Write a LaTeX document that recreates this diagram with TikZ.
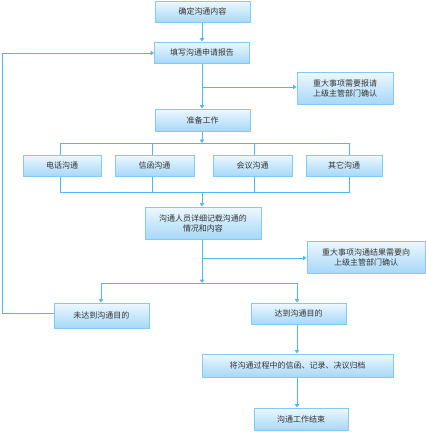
\documentclass[tikz,border=0pt]{standalone}
\usepackage{fontspec}
\newfontfamily\cjk{Noto Sans CJK SC}
\usetikzlibrary{arrows.meta}
\definecolor{lineblue}{HTML}{4DB8F2}
\definecolor{boxedge}{HTML}{80CAF5}
\definecolor{boxtop}{HTML}{EEF8FF}
\definecolor{boxbot}{HTML}{A6D8F7}
\definecolor{txt}{HTML}{333333}
\tikzset{
  fbox/.style={draw=boxedge, line width=1pt, top color=boxtop, bottom color=boxbot,
    inner sep=0pt, align=center, text=txt, font=\cjk\fontsize{8}{10}\selectfont},
  conn/.style={draw=lineblue, line width=0.9pt},
  arr/.style={conn, -{Triangle[width=4.5pt,length=3.5pt]}}
}
\begin{document}
\begin{tikzpicture}[x=1pt,y=-1pt]
\useasboundingbox (0,0) rectangle (426,432);
% main nodes
\node[fbox, minimum width=95pt, minimum height=21pt] (b1) at (202.5,11.5) {确定沟通内容};
\node[fbox, minimum width=95pt, minimum height=21pt] (b2) at (202,52.5) {填写沟通申请报告};
\node[fbox, minimum width=96pt, minimum height=32pt] (b3) at (345,88) {重大事项需要报请\\上级主管部门确认};
\node[fbox, minimum width=95pt, minimum height=22pt] (b4) at (202.5,120) {准备工作};
\node[fbox, minimum width=78pt, minimum height=21pt] (c1) at (62,165.5) {电话沟通};
\node[fbox, minimum width=79pt, minimum height=21pt] (c2) at (154.5,165.5) {信函沟通};
\node[fbox, minimum width=79pt, minimum height=21pt] (c3) at (252.5,165.5) {会议沟通};
\node[fbox, minimum width=76pt, minimum height=21pt] (c4) at (344,165.5) {其它沟通};
\node[fbox, minimum width=116pt, minimum height=32pt] (b5) at (203,223) {沟通人员详细记载沟通的\\情况和内容};
\node[fbox, minimum width=118pt, minimum height=32pt] (b6) at (366,257) {重大事项沟通结果需要向\\上级主管部门确认};
\node[fbox, minimum width=95pt, minimum height=25pt] (b7) at (101.5,315.5) {未达到沟通目的};
\node[fbox, minimum width=95pt, minimum height=21pt] (b8) at (298.5,313.5) {达到沟通目的};
\node[fbox, minimum width=191pt, minimum height=23pt] (b9) at (297.5,365.5) {将沟通过程中的信函、记录、决议归档};
\node[fbox, minimum width=94pt, minimum height=22pt] (b10) at (301,419) {沟通工作结束};
% coordinates
\coordinate (j1) at (202,87);
\coordinate (t0) at (202,143);
\coordinate (t1) at (60,143);
\coordinate (t2) at (152,143);
\coordinate (t3) at (254,143);
\coordinate (t4) at (349,143);
\coordinate (m0) at (202,192);
\coordinate (m1) at (60,192);
\coordinate (m2) at (152,192);
\coordinate (m3) at (254,192);
\coordinate (m4) at (349,192);
\coordinate (j2) at (202,258);
\coordinate (s0) at (202,283);
\coordinate (s1) at (101,283);
\coordinate (s2) at (297,283);
\coordinate (fb) at (2,313);
% connectors
\draw[arr] (b1.south -| 202,0) -- (b2.north -| 202,0);
\draw[arr] (b2.south -| 202,0) -- (b4.north -| 202,0);
\draw[arr] (j1) -- (j1 -| b3.west);
\draw[arr] (b4.south -| 202,0) -- (t0);
\draw[conn] (t1) -- (t4);
\draw[conn] (t1) -- (t1 |- c1.north);
\draw[conn] (t2) -- (t2 |- c2.north);
\draw[conn] (t3) -- (t3 |- c3.north);
\draw[conn] (t4) -- (t4 |- c4.north);
\draw[conn] (m1 |- c1.south) -- (m1) -- (m4) -- (m4 |- c4.south);
\draw[conn] (m2 |- c2.south) -- (m2);
\draw[conn] (m3 |- c3.south) -- (m3);
\draw[arr] (m0) -- (m0 |- b5.north);
\draw[arr] (b5.south -| 202,0) -- (s0);
\draw[arr] (j2) -- (j2 -| b6.west);
\draw[conn] (s1) -- (s2);
\draw[arr] (s1) -- (s1 |- b7.north);
\draw[arr] (s2) -- (s2 |- b8.north);
\draw[arr] (b8.south -| 297,0) -- (b9.north -| 297,0);
\draw[arr] (b9.south -| 297,0) -- (b10.north -| 297,0);
\draw[arr] (fb -| b7.west) -- (fb) -- (fb |- 0,53) -- (b2.west |- 0,53);
\end{tikzpicture}
\end{document}
